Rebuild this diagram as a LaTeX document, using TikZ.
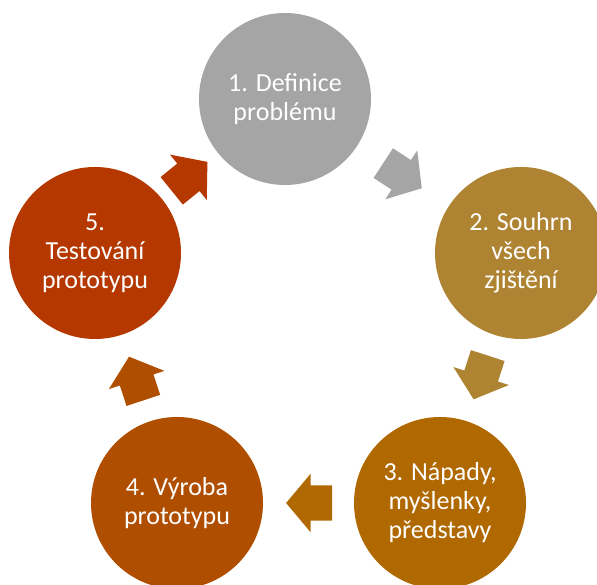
\documentclass[tikz,border=0pt]{standalone}
\usepackage{fontspec}
\setmainfont{Carlito}
\usetikzlibrary{shapes.arrows}
\definecolor{krokA}{HTML}{A5A5A5}
\definecolor{krokB}{HTML}{AE8433}
\definecolor{krokC}{HTML}{B06800}
\definecolor{krokD}{HTML}{B04E00}
\definecolor{krokE}{HTML}{B43800}

\begin{document}
\begin{tikzpicture}[x=1pt,y=1pt,
	kruh/.style={circle,minimum size=172pt,inner sep=0pt,text=white,align=center,font=\fontsize{26}{29}\selectfont},
	sipka/.style={single arrow,minimum height=46pt,inner xsep=0pt,inner ysep=17.5pt,single arrow head extend=11.5pt,single arrow tip angle=100,sloped,allow upside down,xshift=-8pt}]
	\useasboundingbox (0,0) rectangle (597,585);
	\node[kruh,fill=krokA] (k1) at (285,486) {1. Definice\\problému};
	\node[kruh,fill=krokB] (k2) at (521,332) {2. Souhrn\\všech\\zjištění};
	\node[kruh,fill=krokC] (k3) at (440,82) {3. Nápady,\\myšlenky,\\představy};
	\node[kruh,fill=krokD] (k4) at (177,82) {4. Výroba\\prototypu};
	\node[kruh,fill=krokE] (k5) at (95,332) {5.\\Testování\\prototypu};
	\path (k1) -- node[sipka,fill=krokA] (s1) {} (k2);
	\path (k2) -- node[sipka,fill=krokB] (s2) {} (k3);
	\path (k3) -- node[sipka,fill=krokC] (s3) {} (k4);
	\path (k4) -- node[sipka,fill=krokD] (s4) {} (k5);
	\path (k5) -- node[sipka,fill=krokE] (s5) {} (k1);
\end{tikzpicture}
\end{document}
